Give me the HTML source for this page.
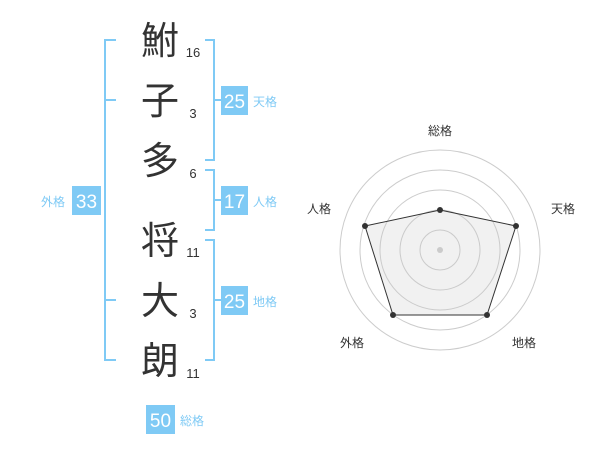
<!DOCTYPE html>
<html><head><meta charset="utf-8"><style>
body{margin:0;width:600px;height:470px;background:#fff;overflow:hidden}
</style></head><body>
<svg width="600" height="470" xmlns="http://www.w3.org/2000/svg" font-family="Liberation Sans, Noto Sans CJK JP, sans-serif">
<g stroke="#7fcaf5" stroke-width="2" fill="none">
<path d="M116 40H105V360H116M105 100H116M105 300H116"/>
<path d="M205 40H214V160H205M214 100H221"/>
<path d="M205 170H214V230H205M214 200H221"/>
<path d="M205 240H214V360H205M214 300H221"/>
</g>
<g fill="#333" font-size="38" text-anchor="middle" font-family="Noto Sans CJK JP, sans-serif">
<text x="160" y="54">鮒</text><text x="160" y="114">子</text><text x="160" y="174">多</text>
<text x="160" y="254">将</text><text x="160" y="314">大</text><text x="160" y="374">朗</text>
</g>
<g fill="#333" font-size="13" text-anchor="middle">
<text x="193" y="57">16</text><text x="193" y="118">3</text><text x="193" y="178">6</text>
<text x="193" y="257">11</text><text x="193" y="318">3</text><text x="193" y="378">11</text>
</g>
<g fill="#7fcaf5">
<rect x="221" y="86" width="27" height="29"/><rect x="221" y="186" width="27" height="29"/>
<rect x="221" y="286" width="27" height="29"/><rect x="72" y="186" width="29" height="29"/>
<rect x="146" y="405" width="29" height="29"/>
</g>
<g fill="#fff" font-size="19" text-anchor="middle">
<text x="234.5" y="108">25</text><text x="234.5" y="208">17</text><text x="234.5" y="308">25</text>
<text x="86.5" y="208">33</text><text x="160.5" y="427">50</text>
</g>
<g fill="#7fcaf5" font-size="12">
<text x="253" y="106">天格</text><text x="253" y="206">人格</text><text x="253" y="306">地格</text>
<text x="41" y="206">外格</text><text x="180" y="425">総格</text>
</g>
<g fill="none" stroke="#ccc" stroke-width="1">
<circle cx="440" cy="250" r="20"/><circle cx="440" cy="250" r="40"/><circle cx="440" cy="250" r="60"/>
<circle cx="440" cy="250" r="80"/><circle cx="440" cy="250" r="100"/>
</g>
<circle cx="440" cy="250" r="3" fill="#ccc"/>
<polygon points="440,210 516,226 487,315 393,315 365,226" fill="rgba(200,200,200,0.25)" stroke="#333" stroke-width="1"/>
<g fill="#333"><circle cx="440" cy="210" r="3"/><circle cx="516" cy="226" r="3"/><circle cx="487" cy="315" r="3"/><circle cx="393" cy="315" r="3"/><circle cx="365" cy="226" r="3"/></g>
<g fill="#333" font-size="12" text-anchor="middle">
<text x="440" y="135">総格</text><text x="563" y="213">天格</text><text x="524" y="347">地格</text>
<text x="352" y="347">外格</text><text x="319" y="213">人格</text>
</g>
</svg>
</body></html>
